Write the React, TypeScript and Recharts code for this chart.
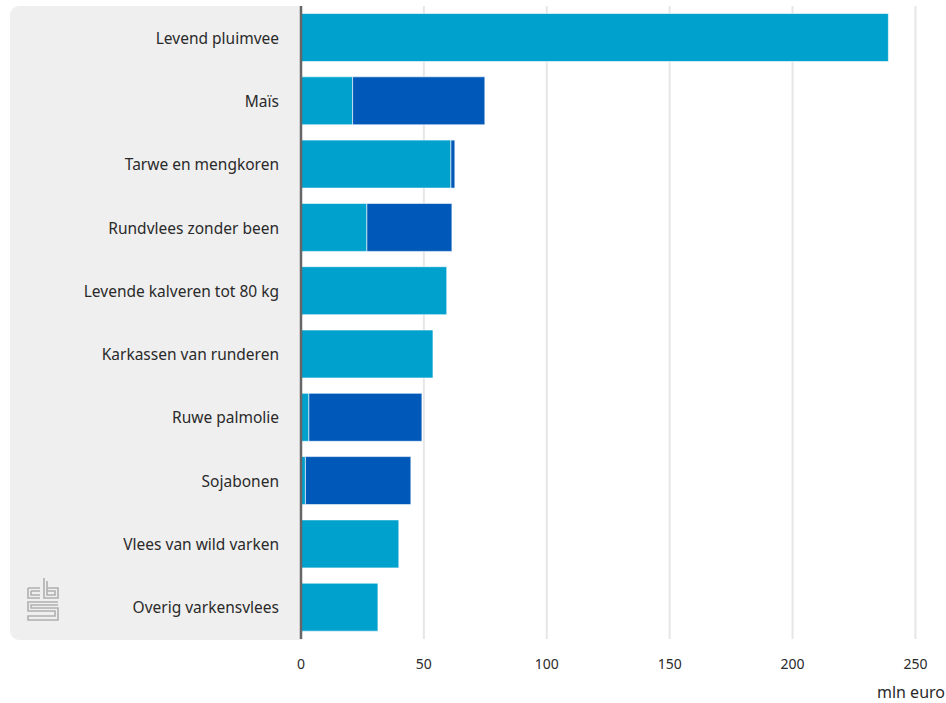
import React from 'react';
import { BarChart, Bar, XAxis, YAxis, CartesianGrid } from 'recharts';

const categories = [
  'Levend pluimvee',
  'Maïs',
  'Tarwe en mengkoren',
  'Rundvlees zonder been',
  'Levende kalveren tot 80 kg',
  'Karkassen van runderen',
  'Ruwe palmolie',
  'Sojabonen',
  'Vlees van wild varken',
  'Overig varkensvlees',
];
const seriesA = [239, 21, 61, 26.8, 59.3, 53.7, 3.2, 1.8, 39.8, 31.3];
const seriesB = [0, 53.8, 1.6, 34.6, 0, 0, 46, 42.9, 0, 0];
const xTicks = [0, 50, 100, 150, 200, 250];

const data = categories.map((name, i) => ({ name, a: seriesA[i], b: seriesB[i] }));

const FONT = '"Noto Sans", "Open Sans", sans-serif';

const CatTick = (props: any) => {
  const { x, y, payload } = props;
  return (
    <text x={x - 14} y={y} dy={6} textAnchor="end" fontSize={15.5} fill="#2a2a2a" fontFamily={FONT}>
      {payload.value}
    </text>
  );
};

const ValTick = (props: any) => {
  const { x, y, payload } = props;
  return (
    <text x={x} y={y} dy={14} textAnchor="middle" fontSize={14} fill="#2a2a2a" fontFamily={FONT}>
      {payload.value}
    </text>
  );
};

const Logo = () => (
  <svg width={34} height={46} viewBox="0 0 34 46" style={{ position: 'absolute', left: 26, top: 576 }}>
    <g fill="none" stroke="#b0b0b0" strokeWidth={1.6}>
      <path d="M2 12 H14 M2 12 V22 H14 M5 15 H14 M5 15 V19 H14" />
      <path d="M18 2 V22 H32 V12 H21 M21 5 V19 H29 V15 H21" />
      <path d="M32 26 H2 V35 H29 V40 H2 V44 H32 V32 H5 V29 H32" />
    </g>
  </svg>
);

const gridX = (args: any) => {
  const scale = args.xAxis && args.xAxis.scale;
  if (typeof scale === 'function') return xTicks.map((t) => scale(t));
  const { offset } = args;
  return xTicks.map((t) => offset.left + (t / 260) * offset.width);
};

export default function App() {
  return (
    <div style={{ position: 'absolute', left: 0, top: 0, width: 946, height: 703, background: '#fff' }}>
      <div
        style={{
          position: 'absolute',
          left: 10,
          top: 6,
          width: 292,
          height: 634,
          background: '#efefef',
          borderRadius: '9px 0 0 9px',
        }}
      />
      <Logo />
      <div style={{ position: 'absolute', left: 0, top: 0 }}>
        <BarChart
          width={946}
          height={703}
          data={data}
          layout="vertical"
          margin={{ top: 6, right: 6, bottom: 0, left: 0 }}
          barCategoryGap={7.5}
        >
          <CartesianGrid horizontal={false} stroke="#e6e6e6" strokeWidth={2} verticalCoordinatesGenerator={gridX} />
          <XAxis
            type="number"
            domain={[0, 260]}
            ticks={xTicks}
            axisLine={false}
            tickLine={false}
            tick={<ValTick />}
            height={64}
            tickMargin={10}
          />
          <YAxis
            type="category"
            dataKey="name"
            width={301}
            axisLine={{ stroke: '#666', strokeWidth: 2.5 }}
            tickLine={false}
            tick={<CatTick />}
          />
          <Bar dataKey="a" stackId="s" fill="#00a1cd" stroke="#ffffff" strokeOpacity={0.6} strokeWidth={1} isAnimationActive={false} />
          <Bar dataKey="b" stackId="s" fill="#0058b8" stroke="#ffffff" strokeOpacity={0.6} strokeWidth={1} isAnimationActive={false} />
        </BarChart>
      </div>
      <div
        style={{
          position: 'absolute',
          right: 1,
          top: 684,
          fontSize: 16,
          lineHeight: '17px',
          color: '#2a2a2a',
          fontFamily: FONT,
        }}
      >
        mln euro
      </div>
    </div>
  );
}
